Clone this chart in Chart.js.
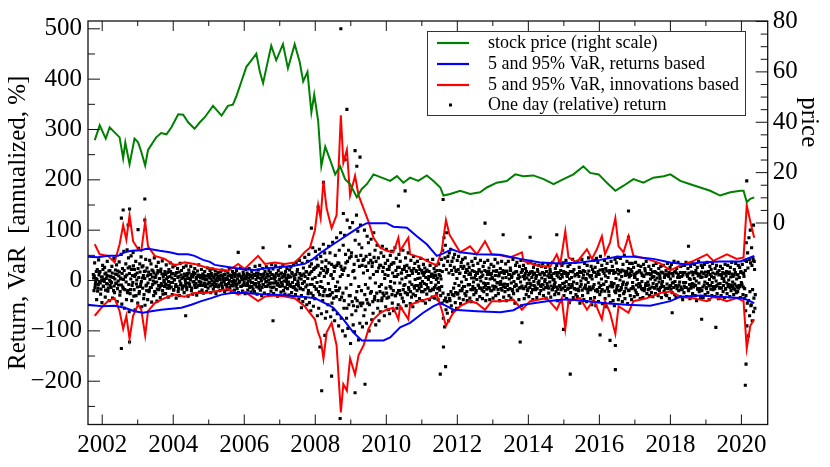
<!DOCTYPE html>
<html>
<head>
<meta charset="utf-8">
<script src="https://cdn.jsdelivr.net/npm/chart.js@4/dist/chart.umd.min.js"></script>
<style>
  body { margin: 0; background: #fff; }
  canvas { display: block; }
</style>
</head>
<body>
<canvas id="varChart" width="830" height="467"></canvas>
<script>
// ===== Data =====
const xTicks = [2002, 2004, 2006, 2008, 2010, 2012, 2014, 2016, 2018, 2020];
const leftTicks = [-200, -100, 0, 100, 200, 300, 400, 500];
const priceTicks = [0, 20, 40, 60, 80];

// stock price (right scale)
const priceYears = [2001.79,2001.93,2002.1,2002.21,2002.35,2002.49,2002.59,2002.65,2002.77,2002.91,2003.01,2003.1,2003.21,2003.29,2003.52,2003.66,2003.81,2003.95,2004.14,2004.28,2004.42,2004.6,2004.75,2004.89,2005.12,2005.36,2005.54,2005.68,2005.78,2005.92,2006.06,2006.2,2006.34,2006.44,2006.53,2006.62,2006.76,2006.9,2007.09,2007.23,2007.42,2007.56,2007.66,2007.78,2007.89,2007.97,2008.08,2008.17,2008.28,2008.42,2008.56,2008.7,2008.84,2008.98,2009.17,2009.31,2009.45,2009.64,2009.87,2010.11,2010.3,2010.48,2010.67,2010.9,2011.14,2011.33,2011.52,2011.61,2011.8,2012.08,2012.36,2012.64,2012.83,2013.11,2013.39,2013.63,2013.86,2014.14,2014.43,2014.71,2014.99,2015.27,2015.55,2015.74,2015.98,2016.21,2016.45,2016.68,2016.96,2017.24,2017.52,2017.81,2018.0,2018.28,2018.56,2018.84,2019.12,2019.4,2019.69,2019.97,2020.06,2020.15,2020.25,2020.36];
const priceValues = [32.9,38.8,33.5,38,36,34,25.7,32,23.3,33.5,32,28.3,22.8,29,34,35.7,35.2,38,43.2,43,40,37.4,40,42,46.5,42.6,46.5,47,50.4,56.2,62,64.6,67.2,60,55.5,61.4,70.4,64.6,71,61.4,71,64,56.2,60,43.9,51,40.7,22.5,30.3,25,19.3,22.5,17.4,15.4,10.2,13.5,15.4,19.3,18,16.7,18.6,16,18,16.7,18.9,16.7,14.1,10.9,11.5,12.8,11.5,12.2,14.1,16,16.7,19.3,18.6,18.9,17.4,15.4,17.4,19.3,22.5,19.9,19.3,16,12.8,14.8,17.4,16,18,18.6,19.3,16.7,15.4,14.1,12.8,10.9,12.2,12.8,12.8,8.3,9.6,10.2];

// 5 and 95% VaR, returns based
const varRetUpYears = [2001.6,2001.88,2002.16,2002.45,2002.63,2002.82,2003.1,2003.24,2003.38,2003.62,2003.9,2004.14,2004.42,2004.6,2004.84,2005.03,2005.17,2005.54,2005.92,2006.3,2006.67,2007.05,2007.42,2007.7,2007.94,2008.17,2008.42,2008.7,2008.98,2009.26,2009.45,2010.01,2010.2,2010.58,2010.86,2011.14,2011.42,2011.61,2011.84,2012.08,2012.55,2013.21,2013.77,2014.33,2014.9,2015.46,2016.02,2016.49,2016.96,2017.52,2018.0,2018.47,2018.84,2019.4,2019.97,2020.15,2020.36];
const varRetUpValues = [47,46,49,49,56,59,60,63,62,59,56,52,52,49,41,37,31,27,23,21,25,27,30,33,43,56,68,81,94,107,114,114,107,105,88,72,49,54,62,56,52,51,43,36,34,36,41,47,47,43,36,32,36,38,38,43,49];
const varRetLowYears = [2001.6,2001.98,2002.35,2002.63,2002.91,2003.15,2003.38,2003.66,2003.95,2004.23,2004.51,2004.79,2005.07,2005.36,2005.64,2006.01,2006.39,2006.76,2007.23,2007.61,2007.99,2008.27,2008.51,2008.79,2009.07,2009.31,2009.92,2010.11,2010.39,2010.67,2011.04,2011.33,2011.52,2011.7,2011.89,2012.55,2013.21,2013.58,2013.86,2014.52,2015.08,2015.65,2016.21,2016.77,2017.43,2018.0,2018.28,2018.84,2019.4,2020.06,2020.36];
const varRetLowValues = [-48,-51,-50,-54,-61,-64,-61,-58,-56,-54,-48,-41,-35,-28,-25,-25,-27,-28,-30,-32,-35,-45,-54,-77,-103,-119,-119,-113,-93,-84,-64,-51,-45,-51,-58,-61,-63,-59,-48,-41,-37,-41,-45,-48,-50,-41,-32,-30,-32,-35,-45];

// 5 and 95% VaR, innovations based
const varInnUpYears = [2001.79,2001.93,2002.16,2002.35,2002.49,2002.59,2002.68,2002.77,2002.87,2003.01,2003.1,2003.21,2003.29,2003.48,2003.76,2004.04,2004.32,2004.6,2004.89,2005.17,2005.54,2005.83,2006.01,2006.39,2006.58,2006.86,2007.14,2007.42,2007.57,2007.7,2007.85,2007.99,2008.08,2008.15,2008.23,2008.32,2008.46,2008.6,2008.72,2008.79,2008.89,2008.98,2009.12,2009.22,2009.36,2009.5,2009.64,2009.83,2010.01,2010.2,2010.34,2010.39,2010.62,2010.67,2010.95,2011.23,2011.42,2011.56,2011.68,2011.78,2011.89,2012.08,2012.36,2012.55,2012.78,2012.97,2013.21,2013.49,2013.82,2013.86,2014.24,2014.61,2014.8,2014.9,2015.04,2015.13,2015.36,2015.65,2015.79,2015.93,2016.07,2016.16,2016.3,2016.45,2016.54,2016.68,2016.82,2016.96,2017.34,2017.71,2018.0,2018.28,2018.65,2019.03,2019.21,2019.59,2019.87,2020.06,2020.15,2020.25,2020.36];
const varInnUpValues = [72,52,49,36,72,110,81,130,78,62,59,117,68,49,43,30,36,33,27,23,19,33,23,49,33,36,33,36,46,56,65,100,150,124,198,143,104,130,328,234,260,169,208,169,143,117,85,65,59,56,85,59,85,52,46,36,30,59,120,91,78,56,68,52,78,52,50,46,56,39,30,27,52,33,98,46,36,62,43,62,88,52,75,124,68,56,88,49,43,34,20,30,39,52,39,52,43,46,150,117,85];
const varInnLowYears = [2001.79,2001.98,2002.16,2002.35,2002.49,2002.59,2002.68,2002.77,2002.87,2003.01,2003.1,2003.21,2003.29,2003.48,2003.76,2004.04,2004.32,2004.6,2004.89,2005.17,2005.54,2005.83,2006.01,2006.39,2006.58,2006.86,2007.14,2007.42,2007.7,2007.84,2007.99,2008.08,2008.15,2008.23,2008.32,2008.46,2008.6,2008.72,2008.79,2008.89,2008.98,2009.12,2009.22,2009.36,2009.5,2009.64,2009.83,2010.01,2010.2,2010.34,2010.39,2010.62,2010.67,2010.95,2011.23,2011.42,2011.56,2011.68,2011.78,2011.89,2012.08,2012.36,2012.55,2012.78,2012.97,2013.21,2013.58,2013.82,2014.05,2014.52,2014.8,2014.94,2015.04,2015.13,2015.46,2015.65,2015.84,2016.07,2016.16,2016.3,2016.45,2016.54,2016.82,2016.96,2017.34,2017.71,2018.0,2018.28,2018.65,2019.03,2019.21,2019.59,2019.87,2020.06,2020.15,2020.25,2020.36];
const varInnLowValues = [-70,-54,-41,-35,-61,-96,-70,-116,-70,-48,-58,-109,-61,-45,-35,-28,-32,-25,-25,-22,-17,-28,-22,-41,-32,-30,-32,-35,-51,-64,-77,-103,-116,-155,-103,-84,-129,-262,-206,-219,-155,-187,-148,-129,-96,-77,-64,-58,-54,-77,-51,-77,-48,-41,-35,-28,-58,-90,-77,-64,-51,-41,-45,-58,-41,-41,-38,-58,-41,-35,-58,-35,-96,-41,-35,-58,-38,-77,-41,-64,-106,-51,-64,-41,-35,-25,-22,-32,-35,-41,-32,-41,-35,-41,-135,-90,-77];

// one day (relative) returns, annualized %, sampled through the dense band
const returnStart = 2001.75;
const returnStep = 0.018667;
const dailyReturns = [
  12,-20,35,-8,4,-38,22,-15,41,-3,18,-27,7,-44,30,-11,2,26,-33,15,-6,38,-21,9,-40,20,-2,
  -14,28,-35,6,44,-24,13,-5,31,-42,19,-9,37,-29,3,52,-47,24,-16,58,-55,8,33,-38,61,-20,45,
  -62,27,-18,49,-40,10,56,-31,22,-58,38,-7,15,-45,64,-26,33,-12,47,-52,5,29,-36,18,-49,42,-9,
  25,-38,11,-22,40,-14,33,-43,7,19,-30,45,-5,-25,28,-41,15,36,-18,4,-34,23,-10,39,-27,12,-3,
  18,-26,31,-9,6,-33,22,-15,35,-4,13,-28,27,-19,2,30,-12,-35,16,24,-22,8,-30,34,-6,20,-17,
  -11,26,-24,9,-3,29,-18,14,-31,21,-7,4,28,-20,12,-27,17,-2,24,-14,6,-29,19,-9,31,-23,10,
  -6,22,-19,13,-25,7,18,-11,3,-22,25,-15,9,-4,20,-24,14,-8,23,-17,5,-12,19,-26,11,-1,16,
  -13,8,-20,17,-5,21,-16,4,12,-22,19,-9,2,-18,15,-6,23,-14,10,-21,6,18,-11,1,-19,14,-7,
  20,-16,9,-24,13,-3,25,-12,7,-21,17,-8,3,-26,22,-10,15,-19,5,24,-14,11,-23,18,-4,-17,12,
  -22,28,-9,15,-27,6,21,-15,30,-19,4,-30,24,-8,13,-25,18,-3,27,-12,9,-28,20,-6,16,-21,32,
  -14,23,-26,8,-5,29,-18,13,-31,20,-10,3,26,-23,15,-7,30,-20,10,-27,18,-2,24,-16,6,-29,21,
  -8,27,-24,14,-33,31,-12,5,-28,36,-19,22,-6,-37,40,-15,11,-30,34,-42,25,-3,46,-35,18,-48,38,
  -26,52,-44,15,-60,33,-8,65,-51,24,-36,58,-17,43,-70,29,-55,62,-12,48,-66,37,-40,72,-22,55,-75,
  40,-62,18,-48,68,-30,55,-72,12,-45,76,-58,28,-80,50,-20,85,-66,35,-90,60,-38,95,-75,22,-100,70,
  -55,90,-110,35,-75,120,-95,60,-30,105,-125,48,-68,115,-88,20,-102,80,-60,130,-40,98,-118,72,-85,110,-50,
  65,-92,40,-70,100,-58,28,-85,88,-45,75,-100,52,-25,82,-78,35,-65,95,-38,60,-88,18,70,-55,45,-80,
  30,-62,55,-40,68,-25,48,-70,12,-52,62,-35,40,-58,22,-66,50,-15,58,-45,35,-60,8,65,-30,44,-55,
  26,-48,52,-20,38,-55,15,-35,60,-42,22,-8,45,-50,30,-28,55,-18,10,-46,40,-33,18,-52,48,-12,34,
  -30,20,-42,38,-10,28,-36,5,44,-22,15,-40,32,-6,25,-45,18,-27,40,-15,8,-38,30,-20,12,-33,42,
  -18,24,-35,10,30,-26,5,-38,33,-14,20,-30,42,-45,60,-75,85,-92,70,-58,95,-65,48,-80,55,-40,62,
  -50,38,-62,45,-30,52,-44,20,-55,40,-25,48,-35,15,-46,36,-20,42,-38,28,-12,45,-30,22,-40,33,-8,
  26,-35,12,-42,38,-18,30,-28,5,44,-24,16,-38,34,-10,22,-32,40,-15,8,-36,28,-22,36,-6,-40,18,
  -28,40,-14,25,-38,12,32,-20,4,-35,28,-12,42,-30,18,-5,35,-26,10,-40,24,-16,38,-8,20,-33,14,
  -22,33,-40,18,-8,38,-30,12,25,-35,6,-18,42,-26,15,-45,30,-10,36,-20,4,-38,28,-14,40,-50,22,
  -15,30,-36,10,24,-28,5,-20,35,-32,14,-6,38,-24,18,-38,26,-10,32,-18,8,-34,22,-4,30,-26,12,
  -20,28,-8,34,-30,14,-2,26,-35,18,-12,32,-25,6,22,-33,10,-18,36,-14,2,-28,24,-22,30,-40,16,
  -26,38,-12,20,-42,30,-6,35,-30,14,-20,40,-36,8,28,-15,-44,32,-24,18,-8,42,-34,22,-16,36,-28,
  12,-32,38,-20,26,-45,16,-8,42,-30,20,-38,34,-14,4,-42,30,-24,45,-18,10,-36,28,-48,22,-12,40,
  -34,26,-50,44,-18,36,-42,12,-28,48,-22,30,-46,18,-8,40,-36,24,-52,34,-14,46,-30,20,-44,38,-10,
  28,-40,14,-50,42,-24,35,-12,46,-38,20,-30,44,-18,8,-42,32,-26,50,-36,16,-8,38,-46,24,-20,34,
  -30,22,-38,34,-12,26,-32,8,36,-24,16,-28,30,-6,20,-36,28,-16,10,-34,32,-20,24,-10,38,-26,14,
  -18,28,-30,12,22,-24,6,-32,30,-14,18,-26,34,-8,14,-30,24,-20,4,28,-34,16,-12,30,-22,10,-28,
  20,-30,34,-16,8,-36,26,-10,32,-24,14,-4,38,-28,18,-34,24,-12,36,-20,6,-32,28,-18,30,-38,16,
  -24,30,-14,36,-32,10,24,-20,4,-36,28,-12,34,-26,16,-8,32,-30,20,-40,26,-16,38,-22,12,-34,30,
  -20,26,-34,14,32,-28,8,-16,36,-24,18,-38,28,-10,22,-30,34,-18,6,-32,24,-12,30,-26,16,-36,20,
  -14,28,-30,10,24,-22,4,-34,32,-16,18,-26,30,-8,14,-32,26,-20,36,-12,8,-28,22,-18,34,-24,12,
  -22,30,-10,26,-34,18,-6,32,-28,14,-36,40,-60,75,-90,55,-110,85,-70,100,-50,65,-80,45,-62,38,-55
];
// the quieter days in between (half a step later), filling the core of the band
const dailyReturnsCore = [
  5,9,-14,-3,18,2,-21,-8,11,16,-5,-17,0,7,22,-12,-2,13,-19,4,10,-7,-15,19,1,-10,8,
  -4,15,6,-20,-11,3,21,-6,12,-16,-1,9,17,-22,5,-9,14,-13,2,20,-18,7,-3,11,-24,25,-8,
  14,-26,3,22,-10,-4,29,-18,8,12,-30,1,-13,24,6,-22,17,-7,-2,27,-15,10,-28,4,19,-11,-20,
  9,-5,17,-19,2,12,-14,21,-8,-1,15,-22,6,11,-3,-17,20,-10,4,-13,18,-6,13,-20,7,0,-12,
  -7,12,3,-15,16,-2,-10,8,18,-13,5,-4,14,-18,1,10,-8,15,-12,6,-16,17,-1,-9,11,4,-14,
  6,-11,13,2,-8,-14,10,4,-5,15,-12,1,9,-15,7,-3,12,-9,14,-6,3,-13,8,11,-2,-10,5,
  -3,8,-10,4,11,-6,1,-12,9,2,-7,12,-4,6,-11,3,10,-1,-9,7,-5,12,0,-8,5,-12,9,
  4,-9,2,10,-5,-11,7,1,-3,12,-8,5,-12,3,9,-6,0,11,-10,6,-2,-7,12,-4,8,-1,-11,
  -8,3,11,-5,-1,9,-12,6,2,-10,12,-3,7,-9,4,10,-6,-2,12,-11,1,8,-4,-12,5,11,-7,
  10,-6,2,-13,8,14,-4,-10,5,12,-1,-14,7,-8,11,3,-12,6,-2,13,-9,1,9,-5,-13,4,12,
  -5,11,-13,3,7,-2,14,-9,-6,10,1,-12,13,-4,6,-11,8,-1,12,-14,5,2,-8,11,-3,9,-10,
  7,-12,16,-4,-14,9,2,-17,12,-8,18,-1,-11,5,14,-16,3,10,-6,-18,13,-2,8,-13,17,-9,4,
  -20,12,28,-8,-25,18,3,-30,22,-12,6,26,-17,-4,30,-22,10,-28,15,-2,24,-14,-30,20,8,-18,27,
  15,-30,22,-6,35,-18,-28,10,32,-24,4,-35,18,26,-12,-32,30,-3,-20,34,-15,8,28,-33,12,-25,20,
  -40,25,52,-15,-55,38,10,-48,45,-30,-8,55,-42,18,-50,32,5,-35,48,-22,-52,40,-12,28,-45,50,-20,
  30,-45,15,42,-28,-8,48,-38,20,-15,35,-48,5,40,-22,28,-42,12,46,-32,-5,38,-25,18,-40,25,-12,
  -22,30,-8,-35,18,26,-30,4,34,-15,-25,22,10,-33,28,-12,-2,32,-28,15,-20,35,-5,-30,20,8,-25,
  12,-20,26,-5,-28,15,3,22,-18,-10,28,-24,6,18,-26,10,-14,25,-3,-22,20,-8,14,-27,24,-15,2,
  -10,18,-20,4,14,-16,22,-6,-12,20,-2,-22,10,16,-18,6,-8,21,-14,2,18,-20,8,-4,13,-17,11,
  6,-14,17,-9,2,20,-16,-4,12,-19,9,3,-12,18,-25,30,-40,45,-35,22,-42,38,-28,15,-36,30,-22,
  20,-28,12,-15,26,-6,-24,18,4,-27,22,-10,14,-20,28,-3,-16,24,-12,8,-26,16,2,-22,19,-9,12,
  -8,15,-18,5,20,-12,-3,18,-16,10,-20,2,14,-9,19,-15,6,-1,17,-19,11,-5,-14,20,-10,4,-17,
  12,-6,18,-15,3,-20,14,7,-11,19,-17,1,10,-13,20,-4,-18,9,15,-8,-2,16,-19,5,-12,18,-7,
  -14,6,19,-10,-18,12,3,-16,20,-5,9,-20,14,-2,-12,17,-8,18,-19,4,11,-15,7,-3,16,-11,20,
  8,-16,3,14,-12,18,-6,-17,11,1,-14,17,-9,6,-18,12,-2,15,-13,4,10,-16,18,-7,-1,13,-10,
  -12,5,16,-9,-17,11,2,-14,18,-6,9,-15,13,-3,17,-11,6,-18,1,14,-8,-4,16,-13,10,-17,7,
  15,-10,4,-18,12,7,-15,18,-5,-12,16,-2,10,-17,14,-8,3,18,-14,6,-11,17,-3,-16,9,12,-18,
  -6,14,-17,8,18,-12,-1,16,-19,5,11,-15,18,-9,2,-17,13,-4,19,-13,7,-18,10,3,-15,17,-8,
  16,-20,8,12,-22,18,-5,-14,21,-10,3,-18,22,-7,14,-21,9,-2,19,-16,6,-22,15,-11,20,-4,-13,
  -12,20,-6,-21,16,4,-18,22,-10,13,-20,1,17,-14,21,-8,-3,19,-22,10,-15,18,-5,12,-19,7,15,
  10,-16,18,-4,-15,12,6,-19,14,-9,2,17,-13,19,-7,-12,15,-2,-18,11,8,-16,19,-6,13,-10,-3,
  -9,14,-16,3,12,-13,17,-6,8,-15,1,16,-11,5,-17,13,-3,10,-14,17,-8,-2,15,-12,6,-16,11,
  13,-7,-15,10,16,-12,3,-17,14,-5,9,-14,17,-2,-10,15,-16,6,12,-9,-3,16,-13,8,-17,11,-4,
  -11,16,-4,-14,12,8,-17,15,-8,2,-15,17,-6,11,-13,4,16,-10,-1,14,-17,9,-5,13,-16,6,17,
  7,-13,15,-9,-3,17,-14,10,-6,16,-11,2,12,-17,8,-4,15,-12,5,-16,13,-1,-10,17,-7,11,-15,
  -6,12,-15,4,16,-10,-2,14,-17,9,-5,15,-12,1,17,-14,7,-9,13,-3,-16,11,-7,16,-11,3,-13,
  11,-15,6,-12,16,-4,-9,15,-13,8,-16,20,-30,38,-45,25,-40,42,-22,35,-48,30,-18,40,-35,22,-28
];
// the big isolated days
const bigMoveYears = [2002.54,2002.59,2002.77,2002.73,2003.01,2003.2,2003.2,2002.54,2002.77,2004.35,2005.83,2006.53,2006.81,2007.28,2007.61,2007.89,2008.08,2008.13,2008.27,2008.23,2008.18,2008.46,2008.72,2008.89,2008.84,2008.79,2009.12,2009.17,2009.26,2009.12,2008.7,2009.4,2010.34,2010.53,2011.6,2011.61,2011.67,2011.52,2012.78,2013.29,2013.77,2013.82,2014.05,2014.8,2014.99,2015.18,2016.02,2016.3,2016.45,2016.45,2016.82,2016.82,2018.51,2018.05,2018.88,2019.28,2020.13,2020.11,2020.15,2020.34];
const bigMoveValues = [124,140,142,110,101,162,120,-135,-122,-70,56,65,-80,68,-54,104,146,-132,-109,195,-219,-190,500,340,240,133,258,227,245,-223,-274,-206,148,178,161,-132,-171,-186,114,91,-122,-84,86,91,-97,-186,-108,-119,-129,-177,138,86,68,-64,-77,-93,-166,-208,198,110];

const FONT = "'Liberation Serif', 'Times New Roman', serif";

function pairs(xs, ys) {
  return xs.map((x, i) => ({ x: x, y: ys[i] }));
}

const returnPoints = dailyReturns.map((v, i) => ({ x: returnStart + i * returnStep, y: v }))
  .concat(dailyReturnsCore.map((v, i) => ({ x: returnStart + (i + 0.5) * returnStep, y: v })))
  .concat(pairs(bigMoveYears, bigMoveValues));

function fmt(v) {
  return v < 0 ? "\u2212" + Math.abs(v) : String(v);
}

// ===== frame, inward ticks, titles and legend =====
const decorations = {
  id: "decorations",
  afterDraw(chart) {
    const { ctx, chartArea: a, scales } = chart;
    ctx.save();
    ctx.strokeStyle = "#111";
    ctx.lineWidth = 1.3;
    ctx.strokeRect(a.left, a.top, a.right - a.left, a.bottom - a.top);

    const seg = (x1, y1, x2, y2) => {
      ctx.beginPath(); ctx.moveTo(x1, y1); ctx.lineTo(x2, y2); ctx.stroke();
    };
    ctx.lineWidth = 1;
    for (let yr = 2002; yr <= 2020; yr++) {
      const px = scales.x.getPixelForValue(yr);
      const len = yr % 2 === 0 ? 10 : 5;
      seg(px, a.bottom, px, a.bottom - len);
      seg(px, a.top, px, a.top + len);
    }
    for (let v = -250; v <= 500; v += 50) {
      const py = scales.y.getPixelForValue(v);
      seg(a.left, py, a.left + (v % 100 === 0 ? 12 : 7), py);
    }
    for (let p = 0; p <= 80; p += 5) {
      const py = scales.y2.getPixelForValue(p);
      seg(a.right, py, a.right - (p % 20 === 0 ? 12 : 7), py);
    }

    // axis titles
    ctx.fillStyle = "#000";
    ctx.font = "25px " + FONT;
    ctx.textAlign = "center";
    ctx.textBaseline = "middle";
    ctx.save();
    ctx.translate(18, (a.top + a.bottom) / 2);
    ctx.rotate(-Math.PI / 2);
    ctx.fillText("Return, VaR  [annualized, %]", 0, 0);
    ctx.restore();
    ctx.save();
    const midPrice = (scales.y2.getPixelForValue(0) + scales.y2.getPixelForValue(80)) / 2;
    ctx.translate(809, midPrice);
    ctx.rotate(Math.PI / 2);
    ctx.fillText("price", 0, 0);
    ctx.restore();

    // legend box
    const bx = 427, by = 31, bw = 318, bh = 84;
    ctx.fillStyle = "#fff";
    ctx.fillRect(bx, by, bw, bh);
    ctx.strokeStyle = "#333";
    ctx.lineWidth = 1;
    ctx.strokeRect(bx + 0.5, by + 0.5, bw, bh);
    const rows = [
      { y: 43, color: "#008000", text: "stock price (right scale)" },
      { y: 64, color: "#0000ff", text: "5 and 95% VaR, returns based" },
      { y: 85, color: "#ff0000", text: "5 and 95% VaR, innovations based" },
      { y: 105, color: null, text: "One day (relative) return" }
    ];
    ctx.font = "18px " + FONT;
    ctx.textAlign = "left";
    rows.forEach(r => {
      if (r.color) {
        ctx.strokeStyle = r.color;
        ctx.lineWidth = 2.2;
        seg(437, r.y, 469, r.y);
      } else {
        ctx.fillStyle = "#000";
        ctx.fillRect(449, r.y - 1.5, 3, 3);
      }
      ctx.fillStyle = "#000";
      ctx.fillText(r.text, 488, r.y);
    });
    ctx.restore();
  }
};

const lineStyle = (color) => ({
  borderColor: color,
  backgroundColor: color,
  borderWidth: 2,
  pointRadius: 0,
  tension: 0,
  fill: false,
  showLine: true
});

new Chart(document.getElementById("varChart"), {
  type: "scatter",
  data: {
    datasets: [
      Object.assign({ label: "stock price (right scale)", data: pairs(priceYears, priceValues), yAxisID: "y2" }, lineStyle("#008000")),
      Object.assign({ label: "VaR returns up", data: pairs(varRetUpYears, varRetUpValues), yAxisID: "y" }, lineStyle("#0000ff")),
      Object.assign({ label: "VaR returns low", data: pairs(varRetLowYears, varRetLowValues), yAxisID: "y" }, lineStyle("#0000ff")),
      Object.assign({ label: "VaR innovations up", data: pairs(varInnUpYears, varInnUpValues), yAxisID: "y" }, lineStyle("#ff0000")),
      Object.assign({ label: "VaR innovations low", data: pairs(varInnLowYears, varInnLowValues), yAxisID: "y" }, lineStyle("#ff0000")),
      {
        label: "One day (relative) return",
        data: returnPoints,
        yAxisID: "y",
        showLine: false,
        pointStyle: "rect",
        pointRadius: 2.2,
        pointBorderWidth: 0,
        backgroundColor: "#000",
        borderColor: "#000"
      }
    ]
  },
  options: {
    responsive: false,
    animation: false,
    devicePixelRatio: 1,
    layout: { padding: { top: 11, left: 0, right: 0, bottom: 0 } },
    plugins: { legend: { display: false }, tooltip: { enabled: false } },
    scales: {
      x: {
        type: "linear",
        position: "bottom",
        min: 2001.6,
        max: 2020.74,
        grid: { display: false, drawTicks: false },
        border: { display: false },
        afterBuildTicks: s => { s.ticks = xTicks.map(v => ({ value: v })); },
        afterFit: s => { s.height = 42.5; },
        ticks: { color: "#000", font: { family: FONT, size: 25 }, padding: 6, maxRotation: 0, autoSkip: false, callback: v => String(v) }
      },
      y: {
        position: "left",
        min: -286,
        max: 515.5,
        grid: { display: false, drawTicks: false },
        border: { display: false },
        afterBuildTicks: s => { s.ticks = leftTicks.map(v => ({ value: v })); },
        afterFit: s => { s.width = 88; },
        ticks: { color: "#000", font: { family: FONT, size: 25 }, padding: 6, autoSkip: false, callback: v => fmt(v) }
      },
      y2: {
        position: "right",
        min: -80,
        max: 80.2,
        grid: { display: false, drawTicks: false },
        border: { display: false },
        afterBuildTicks: s => { s.ticks = priceTicks.map(v => ({ value: v })); },
        afterFit: s => { s.width = 62.3; },
        ticks: { color: "#000", font: { family: FONT, size: 25 }, padding: 5, autoSkip: false, callback: v => String(v) }
      }
    }
  },
  plugins: [decorations]
});
</script>
</body>
</html>
